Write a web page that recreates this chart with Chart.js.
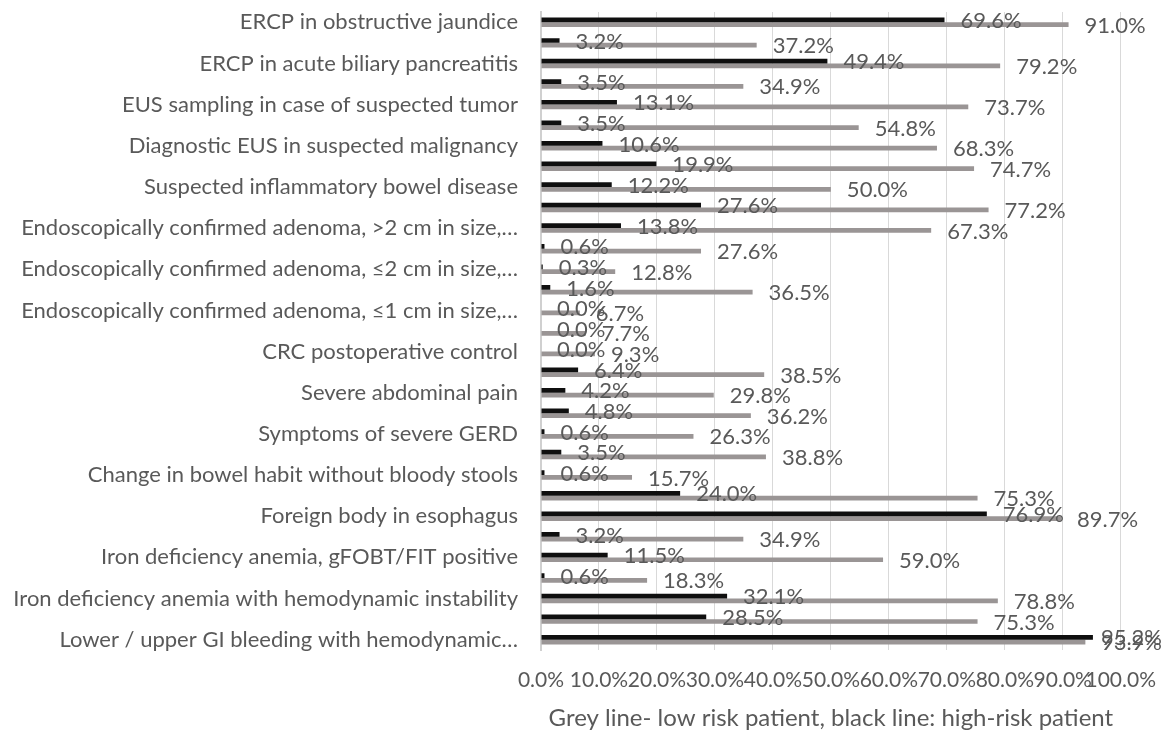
<!DOCTYPE html>
<html>
<head>
<meta charset="utf-8">
<script src="https://cdn.jsdelivr.net/npm/chart.js@4"></script>
<style>
  html, body { margin: 0; padding: 0; background: #ffffff; }
  #wrap { width: 1174px; height: 734px; position: relative; }
</style>
</head>
<body>
<div id="wrap"><canvas id="c" width="1174" height="734"></canvas></div>
<script>
// Categories, top to bottom (only every other category label is shown in the source chart)
const categories = [
  "ERCP in obstructive jaundice", "",
  "ERCP in acute biliary pancreatitis", "",
  "EUS sampling in case of suspected tumor", "",
  "Diagnostic EUS in suspected malignancy", "",
  "Suspected inflammatory bowel disease", "",
  "Endoscopically confirmed adenoma, >2 cm in size,…", "",
  "Endoscopically confirmed adenoma, ≤2 cm in size,…", "",
  "Endoscopically confirmed adenoma, ≤1 cm in size,…", "",
  "CRC postoperative control", "",
  "Severe abdominal pain", "",
  "Symptoms of severe GERD", "",
  "Change in bowel habit without bloody stools", "",
  "Foreign body in esophagus", "",
  "Iron deficiency anemia, gFOBT/FIT positive", "",
  "Iron deficiency anemia with hemodynamic instability", "",
  "Lower / upper GI bleeding with hemodynamic…"
];
// Black bars: high-risk patient (%)
const highRisk = [69.6, 3.2, 49.4, 3.5, 13.1, 3.5, 10.6, 19.9, 12.2, 27.6, 13.8, 0.6, 0.3, 1.6, 0.0, 0.0,
                  0.0, 6.4, 4.2, 4.8, 0.6, 3.5, 0.6, 24.0, 76.9, 3.2, 11.5, 0.6, 32.1, 28.5, 95.2];
// Grey bars: low-risk patient (%)
const lowRisk = [91.0, 37.2, 79.2, 34.9, 73.7, 54.8, 68.3, 74.7, 50.0, 77.2, 67.3, 27.6, 12.8, 36.5, 6.7, 7.7,
                 9.3, 38.5, 29.8, 36.2, 26.3, 38.8, 15.7, 75.3, 89.7, 34.9, 59.0, 18.3, 78.8, 75.3, 93.9];
const xTicks = [0, 10, 20, 30, 40, 50, 60, 70, 80, 90, 100];
const axisTitle = "Grey line- low risk patient, black line: high-risk patient";

const FONT = "Lato, 'Open Sans', sans-serif";
const TEXT = "#595959";

const labelPlugin = {
  id: 'barLabels',
  afterDatasetsDraw(chart) {
    const ctx = chart.ctx;
    ctx.save();
    ctx.font = "22px " + FONT;
    ctx.fillStyle = TEXT;
    ctx.textAlign = 'left';
    ctx.textBaseline = 'middle';
    chart.data.datasets.forEach((ds, di) => {
      const meta = chart.getDatasetMeta(di);
      meta.data.forEach((el, i) => {
        const txt = ds.data[i].toFixed(1) + '%';
        const w = ctx.measureText(txt).width;
        let x = el.x + 16;
        if (x + w > chart.width - 12) x = chart.width - 12 - w;
        ctx.fillText(txt, x, el.y + 1);
      });
    });
    ctx.restore();
  }
};

new Chart(document.getElementById('c'), {
  type: 'bar',
  data: {
    labels: categories,
    datasets: [
      { label: 'High-risk patient', data: highRisk, backgroundColor: '#0f0f0f',
        categoryPercentage: 0.46, barPercentage: 1.0 },
      { label: 'Low-risk patient', data: lowRisk, backgroundColor: '#9a9595',
        categoryPercentage: 0.46, barPercentage: 1.0 }
    ]
  },
  options: {
    indexAxis: 'y',
    responsive: false,
    animation: false,
    layout: { padding: { top: 12, right: 52, bottom: 0, left: 0 } },
    plugins: {
      legend: { display: false },
      tooltip: { enabled: false }
    },
    scales: {
      x: {
        type: 'linear',
        min: 0, max: 100,
        afterBuildTicks(scale) { scale.ticks = xTicks.map(v => ({ value: v })); },
        afterFit(scale) { scale.height = 84; },
        ticks: {
          callback: v => Number(v).toFixed(1) + '%',
          font: { family: FONT, size: 21 },
          color: TEXT,
          padding: 18,
          maxRotation: 0,
          autoSkip: false
        },
        grid: { color: '#d9d9d9', lineWidth: 1, drawTicks: false },
        border: { display: false },
        title: {
          display: true,
          text: axisTitle,
          font: { family: FONT, size: 24 },
          color: TEXT,
          padding: { top: 0, bottom: 1 }
        }
      },
      y: {
        afterFit(scale) { scale.width = 541; scale.paddingTop = 0; scale.paddingBottom = 0; },
        ticks: {
          font: { family: FONT, size: 22 },
          color: TEXT,
          padding: 23,
          autoSkip: false
        },
        grid: { display: false, drawTicks: false },
        border: { display: true, color: '#d0d0d0', width: 2 }
      }
    }
  },
  plugins: [labelPlugin]
});
</script>
</body>
</html>
